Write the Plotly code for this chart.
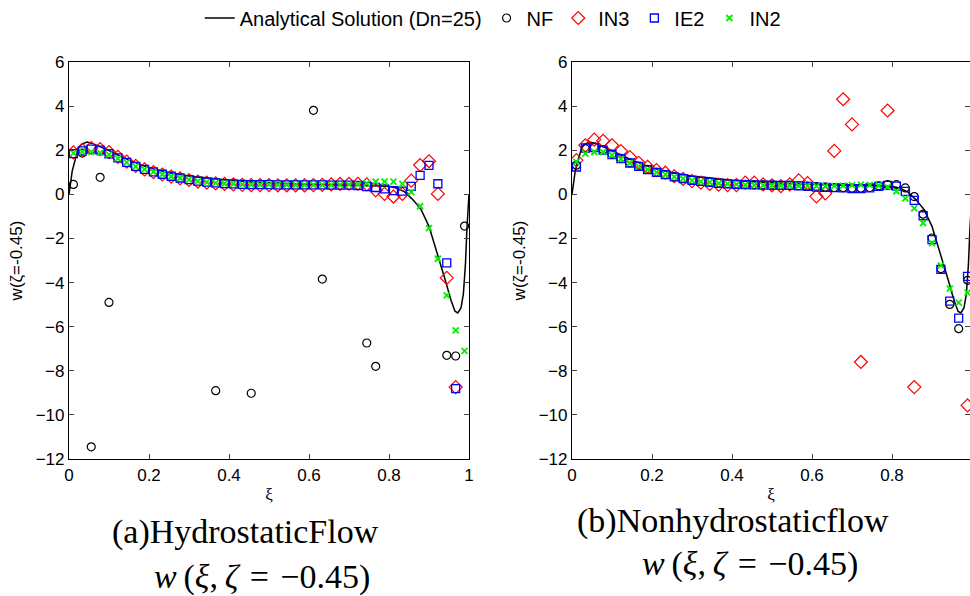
import plotly.graph_objects as go

# ---------------- data ----------------
xi = [0.0111, 0.0333, 0.0556, 0.0778, 0.1, 0.1222, 0.1444, 0.1667, 0.1889, 0.2111,
      0.2333, 0.2556, 0.2778, 0.3, 0.3222, 0.3444, 0.3667, 0.3889, 0.4111, 0.4333,
      0.4556, 0.4778, 0.5, 0.5222, 0.5444, 0.5667, 0.5889, 0.6111, 0.6333, 0.6556,
      0.6778, 0.7, 0.7222, 0.7444, 0.7667, 0.7889, 0.8111, 0.8333, 0.8556, 0.8778,
      0.9, 0.9222, 0.9444, 0.9667, 0.9889]

x_exact = [0, 0.008, 0.016, 0.024, 0.032, 0.045, 0.06, 0.08, 0.1, 0.125, 0.15, 0.2, 0.25,
           0.3, 0.35, 0.4, 0.45, 0.5, 0.6, 0.7, 0.8, 0.82, 0.84, 0.86, 0.88, 0.9, 0.92,
           0.94, 0.955, 0.965, 0.972, 0.98, 0.986, 0.991, 0.995, 1.0]
w_exact = [0.0, 1.05, 1.6, 2.1, 2.28, 2.37, 2.3, 2.15, 1.98, 1.76, 1.55, 1.2, 0.98,
           0.83, 0.72, 0.64, 0.57, 0.52, 0.46, 0.43, 0.37, 0.28, 0.1, -0.25, -0.68, -1.45,
           -2.6, -3.85, -4.8, -5.3, -5.38, -5.15, -4.5, -3.2, -1.5, 0.0]

# (a) Hydrostatic flow
nf_a = [0.45, 1.87, -11.45, 0.77, -4.9, None, None, None, None, None,
        None, None, None, None, None, None, -8.9, None, None, None,
        -9.02, None, None, None, None, None, None, 3.81, -3.84, None,
        None, None, None, -6.74, -7.8, None, None, None, None, None,
        None, None, -7.3, -7.33, -1.44]
in3_a = [1.9, 2.02, 2.1, 2.05, 1.92, 1.7, 1.48, 1.29, 1.13, 1.01,
         0.9, 0.8, 0.72, 0.65, 0.58, 0.53, 0.5, 0.47, 0.45, 0.43,
         0.42, 0.42, 0.42, 0.41, 0.41, 0.41, 0.41, 0.42, 0.43, 0.45,
         0.47, 0.48, 0.48, 0.45, 0.18, 0.02, -0.1, 0.02, 0.62, 1.33,
         1.5, 0.02, -3.79, -8.74, None]
ie2_a = [1.85, 1.97, 2.05, 2.0, 1.84, 1.65, 1.45, 1.27, 1.13, 1.02,
         0.91, 0.82, 0.74, 0.67, 0.6, 0.55, 0.52, 0.49, 0.47, 0.45,
         0.44, 0.44, 0.44, 0.43, 0.43, 0.43, 0.43, 0.43, 0.43, 0.42,
         0.42, 0.42, 0.4, 0.35, 0.31, 0.25, 0.17, 0.15, 0.36, 0.86,
         1.31, 0.48, -3.11, -8.81, None]
in2_a = [1.87, 1.93, 1.93, 1.88, 1.8, 1.63, 1.45, 1.27, 1.13, 1.02,
         0.91, 0.82, 0.74, 0.67, 0.6, 0.55, 0.52, 0.49, 0.47, 0.45,
         0.44, 0.44, 0.44, 0.43, 0.43, 0.43, 0.43, 0.43, 0.43, 0.43,
         0.43, 0.44, 0.45, 0.5, 0.57, 0.58, 0.58, 0.47, 0.1, -0.54,
         -1.53, -2.92, -4.58, -6.17, -7.1]

# (b) Nonhydrostatic flow
nf_b = [1.32, 2.07, 2.15, 2.02, 1.82, 1.63, 1.43, 1.28, 1.13, 1.0,
        0.9, 0.8, 0.72, 0.64, 0.59, 0.55, 0.51, 0.48, 0.46, 0.45,
        0.44, 0.43, 0.42, 0.41, 0.41, 0.39, 0.37, 0.35, 0.33, 0.31,
        0.3, 0.28, 0.28, 0.31, 0.38, 0.44, 0.44, 0.29, -0.1, -0.9,
        -1.98, -3.37, -4.99, -6.09, -3.9]
in3_b = [1.55, 2.22, 2.48, 2.43, 2.22, 1.96, 1.69, 1.43, 1.25, 1.1,
         0.98, 0.82, 0.7, 0.6, 0.53, 0.47, 0.44, 0.42, 0.42, 0.53,
         0.53, 0.45, 0.41, 0.37, 0.45, 0.63, 0.51, -0.09, 0.04, 1.97,
         4.31, 3.17, -7.6, None, None, 3.8, None, None, -8.74, None,
         None, None, None, None, -9.57]
ie2_b = [1.24, 2.1, 2.12, 2.0, 1.8, 1.62, 1.42, 1.27, 1.12, 1.0,
         0.89, 0.79, 0.71, 0.63, 0.59, 0.54, 0.5, 0.47, 0.45, 0.44,
         0.43, 0.42, 0.42, 0.41, 0.41, 0.38, 0.36, 0.33, 0.32, 0.3,
         0.29, 0.26, 0.26, 0.29, 0.36, 0.41, 0.37, 0.13, -0.27, -0.97,
         -2.05, -3.4, -4.84, -5.61, -3.72]
in2_b = [1.47, 1.85, 1.92, 1.92, 1.78, 1.6, 1.42, 1.27, 1.12, 1.0,
         0.89, 0.79, 0.71, 0.63, 0.58, 0.54, 0.5, 0.47, 0.45, 0.43,
         0.42, 0.41, 0.4, 0.4, 0.4, 0.39, 0.38, 0.37, 0.37, 0.38,
         0.39, 0.42, 0.44, 0.43, 0.4, 0.33, 0.14, -0.18, -0.64, -1.3,
         -2.21, -3.22, -4.28, -4.91, -4.46]

names = ["Analytical Solution (Dn=25)", "NF", "IN3", "IE2", "IN2"]
x_ticks = [0, 0.2, 0.4, 0.6, 0.8, 1]
y_ticks = [-12, -10, -8, -6, -4, -2, 0, 2, 4, 6]
y_title = "w(ζ=-0.45)"
x_title = "ξ"
captions_a = ["(a)HydrostaticFlow", "<i>w</i>\u2009(<i>ξ</i>,\u2009<i>ζ</i>\u2004=\u2004−0.45)"]
captions_b = ["(b)Nonhydrostaticflow", "<i>w</i>\u2009(<i>ξ</i>,\u2009<i>ζ</i>\u2004=\u2004−0.45)"]

# ---------------- figure ----------------
fig = go.Figure()

marker_styles = {
    "NF": dict(symbol="circle-open", size=8, color="black", line=dict(width=1.2, color="black")),
    "IN3": dict(symbol="diamond-open", size=10, color="#ff0000", line=dict(width=1.2, color="#ff0000")),
    "IE2": dict(symbol="square-open", size=8, color="#0000ff", line=dict(width=1.3, color="#0000ff")),
    "IN2": dict(symbol="x-thin-open", size=6, color="#00f000", line=dict(width=1.8, color="#00f000")),
}

panels = [
    ("x", "y", nf_a, in3_a, ie2_a, in2_a, True),
    ("x2", "y2", nf_b, in3_b, ie2_b, in2_b, False),
]
for xa, ya, nf, in3, ie2, in2, show in panels:
    fig.add_trace(go.Scatter(x=x_exact, y=w_exact, mode="lines", name=names[0],
                             line=dict(color="black", width=1.5),
                             xaxis=xa, yaxis=ya, showlegend=show))
    for nm, vals in zip(names[1:], [nf, in3, ie2, in2]):
        fig.add_trace(go.Scatter(x=xi, y=vals, mode="markers", name=nm,
                                 marker=marker_styles[nm], xaxis=xa, yaxis=ya,
                                 showlegend=show, cliponaxis=True))

W, H = 970, 596
ax_font = dict(family="Liberation Sans, Arial, sans-serif", size=17, color="black")
common_x = dict(range=[0, 1], tickvals=x_ticks, ticks="inside", ticklen=5,
                showline=True, linecolor="black", linewidth=1.2, mirror="ticks",
                showgrid=False, zeroline=False, tickfont=ax_font, automargin=False,
                title=dict(text=x_title, font=dict(family="Liberation Serif, serif", size=17, color="black"), standoff=4))
common_y = dict(range=[-12, 6], tickvals=y_ticks, ticks="inside", ticklen=5,
                showline=True, linecolor="black", linewidth=1.2, mirror="ticks",
                showgrid=False, zeroline=False, tickfont=ax_font, automargin=False,
                title=dict(text=y_title, font=ax_font, standoff=8))

fig.update_layout(
    width=W, height=H,
    margin=dict(l=0, r=0, t=0, b=0, autoexpand=False),
    paper_bgcolor="white", plot_bgcolor="white",
    font=dict(family="Liberation Sans, Arial, sans-serif", color="black"),
    xaxis=dict(domain=[69 / W, 469 / W], anchor="y", **common_x),
    yaxis=dict(domain=[1 - 459 / H, 1 - 62 / H], anchor="x", **common_y),
    xaxis2=dict(domain=[572 / W, 1.0], anchor="y2", **{**common_x, "range": [0, 0.995]}),
    yaxis2=dict(domain=[1 - 459 / H, 1 - 62 / H], anchor="x2", **common_y),
    legend=dict(orientation="h", x=0.508, xanchor="center", y=1 - 18 / H, yanchor="middle",
                font=dict(family="Liberation Sans, Arial, sans-serif", size=20, color="black"),
                itemwidth=30, tracegroupgap=0, bgcolor="rgba(0,0,0,0)"),
    showlegend=True,
)

serif = dict(family="Liberation Serif, Times New Roman, serif", size=34, color="black")
anns = [
    (captions_a[0], 245, 532),
    (captions_a[1], 262, 577),
    (captions_b[0], 733, 521),
    (captions_b[1], 750, 564),
]
for txt, px, py in anns:
    fig.add_annotation(text=txt, x=px / W, y=1 - py / H, xref="paper", yref="paper",
                       showarrow=False, xanchor="center", yanchor="middle", font=serif)

fig.write_html("out.html", config={"displayModeBar": False},
               post_script="document.body.style.margin='0';document.body.style.padding='0';")
